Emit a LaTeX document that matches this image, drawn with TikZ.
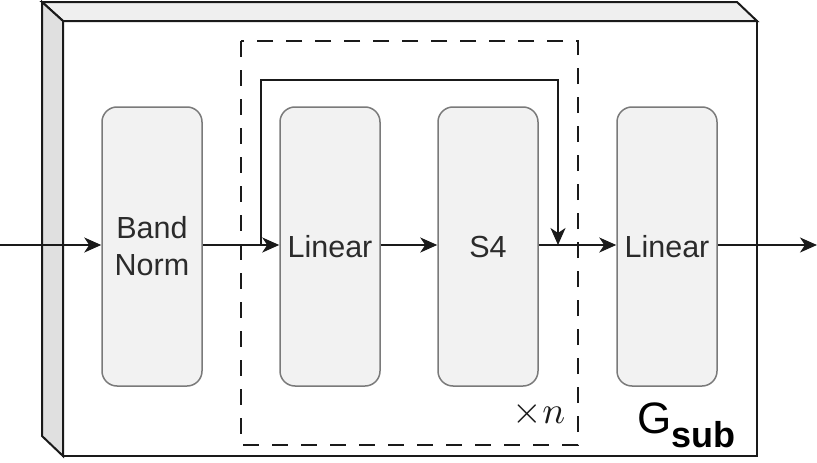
\documentclass[tikz,border=0pt]{standalone}
\usepackage{graphicx}
\usepackage{fontspec}
\setmainfont{Liberation Sans}
\usetikzlibrary{arrows.meta}
\definecolor{edgeC}{HTML}{1A1A1A}
\definecolor{boxFill}{HTML}{F2F2F2}
\definecolor{boxLine}{HTML}{7A7A7A}
\definecolor{txtC}{HTML}{2B2B2B}
\definecolor{topFill}{HTML}{EFEFEF}
\definecolor{sideFill}{HTML}{E0E0E0}
\tikzset{
  blockbox/.style={draw=boxLine, fill=boxFill, line width=1.5pt, rounded corners=15pt,
    minimum width=100pt, minimum height=279pt, inner sep=0pt, text=txtC,
    font=\fontsize{30.5}{37}\selectfont, align=center},
  flow/.style={draw=edgeC, line width=2pt, -{Stealth[length=17pt,width=15pt,inset=5pt]}},
  cubeline/.style={draw=edgeC, line width=2pt, line join=miter},
}
\begin{document}
\begin{tikzpicture}[x=1pt,y=-1pt]
\useasboundingbox (0,0) rectangle (817,463);
% 3D frame
\fill[white] (63,21) rectangle (757,456);
\path[cubeline, fill=topFill] (42,2) -- (737,2) -- (757,21) -- (63,21) -- cycle;
\path[cubeline, fill=sideFill] (42,2) -- (63,21) -- (63,456) -- (42,436) -- cycle;
\draw[cubeline] (63,21) rectangle (757,456);
% dashed repeat box
\draw[edgeC, line width=2pt, dash pattern=on 16pt off 13pt] (241,41) rectangle (578,445);
% blocks
\node[blockbox] (bn) at (152,246.5) {Band\\Norm};
\node[blockbox] (lin1) at (330,246.5) {Linear};
\node[blockbox] (s4) at (488,246.5) {S4};
\node[blockbox] (lin2) at (667,246.5) {Linear};
% connectors
\coordinate (in) at (0,245);
\coordinate (out) at (817,245);
\coordinate (skipA) at (261,245);
\coordinate (skipB) at (558,245);
\draw[flow] (in) -- (bn.west |- in);
\draw[flow] (bn.east |- in) -- (lin1.west |- in);
\draw[flow] (lin1.east |- in) -- (s4.west |- in);
\draw[flow] (s4.east |- in) -- (lin2.west |- in);
\draw[flow] (lin2.east |- in) -- (out);
\draw[flow] (skipA) -- (261,80) -- (558,80) -- (skipB);
% labels
\node[inner sep=0pt, anchor=base, text=edgeC] (rep) at (539,423.5) {\scalebox{3.8}{$\times n$}};
\node[inner sep=0pt, anchor=base west, text=black] (gsub) at (637,433) {\fontsize{44}{50}\selectfont G\raisebox{-14pt}{\fontsize{36}{40}\selectfont\bfseries sub}};
\end{tikzpicture}
\end{document}
